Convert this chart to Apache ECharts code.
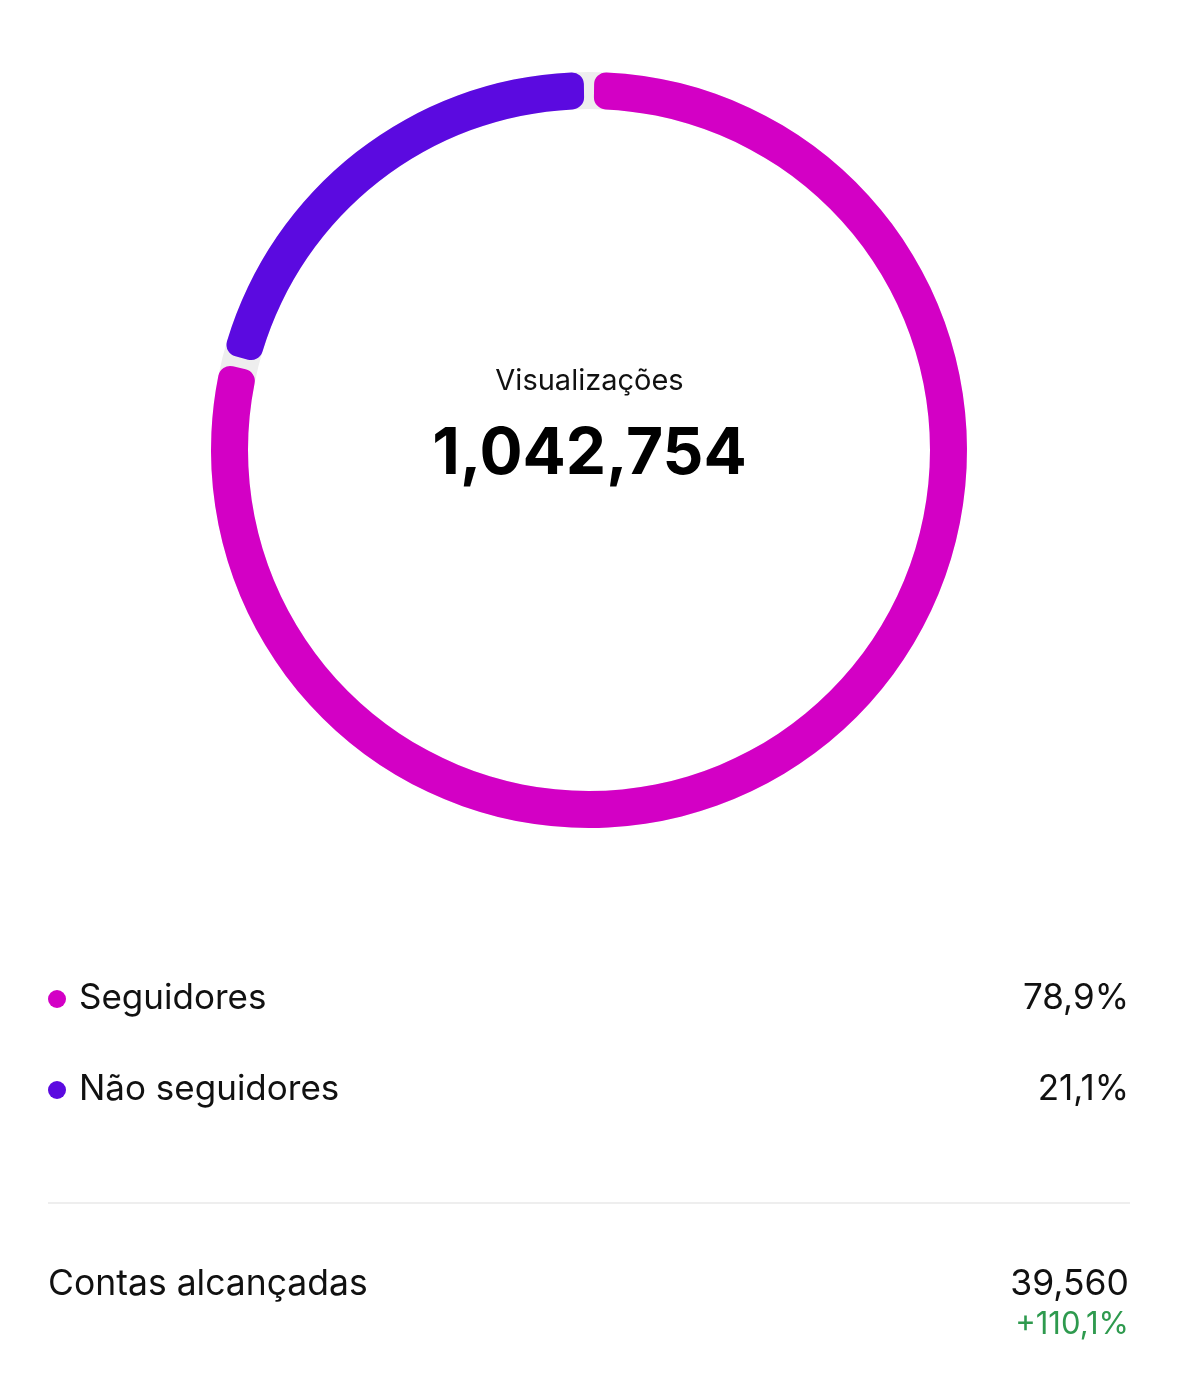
<!DOCTYPE html>
<html><head><meta charset="utf-8">
<script src="https://cdn.jsdelivr.net/npm/echarts@6/dist/echarts.min.js"></script>
<style>html,body{margin:0;padding:0;background:#fff}#c{width:1179px;height:1399px}</style>
</head><body><div id="c"></div>
<script>
const categories = ['Seguidores', 'Não seguidores'];
const shares = [78.9, 21.1];
const shareLabels = ['78,9%', '21,1%'];
const colors = ['#D300C5', '#5B0AE0'];
const centerTitle = 'Visualizações';
const centerValue = '1,042,754';
const reachLabel = 'Contas alcançadas';
const reachValue = '39,560';
const reachChange = '+110,1%';

const FONT = 'Inter, Roboto, "Noto Sans", sans-serif';
const chart = echarts.init(document.getElementById('c'), null, {renderer: 'canvas'});

const graphics = [
  {type: 'text', left: 'center', top: 367, style: {text: centerTitle, font: '400 29px ' + FONT, fill: '#111', textAlign: 'center'}},
  {type: 'text', left: 'center', top: 423, style: {text: centerValue, font: '700 64px ' + FONT, fill: '#000', textAlign: 'center'}},
  {type: 'line', shape: {x1: 48, y1: 1203, x2: 1130, y2: 1203}, style: {stroke: '#eeeeee', lineWidth: 2}},
  {type: 'text', left: 48, top: 1266, style: {text: reachLabel, font: '400 35.5px ' + FONT, fill: '#111'}},
  {type: 'text', right: 50, top: 1266, style: {text: reachValue, font: '400 35.5px ' + FONT, fill: '#111', textAlign: 'right'}},
  {type: 'text', right: 50, top: 1309, style: {text: reachChange, font: '400 31px ' + FONT, fill: '#2E9A4E', textAlign: 'right'}}
];
categories.forEach((c, i) => {
  const y = 999 + i * 91;
  graphics.push({type: 'circle', shape: {cx: 57, cy: y, r: 9}, style: {fill: colors[i]}});
  graphics.push({type: 'text', left: 79, top: y - 18, style: {text: c, font: '400 35px ' + FONT, fill: '#111'}});
  graphics.push({type: 'text', right: 50, top: y - 18, style: {text: shareLabels[i], font: '400 35px ' + FONT, fill: '#111', textAlign: 'right'}});
});

chart.setOption({
  animation: false,
  graphic: graphics,
  series: [
    {
      type: 'pie', silent: true, z: 1,
      center: [589, 450], radius: [341, 378],
      label: {show: false}, labelLine: {show: false},
      data: [{value: 1, itemStyle: {color: '#eeeeee'}}]
    },
    {
      type: 'pie', z: 2,
      center: [589, 450], radius: [341, 378],
      startAngle: 90, clockwise: true,
      padAngle: 1.6,
      itemStyle: {borderRadius: 12},
      label: {show: false}, labelLine: {show: false},
      data: categories.map((c, i) => ({name: c, value: shares[i], itemStyle: {color: colors[i]}}))
    }
  ]
});
</script></body></html>
